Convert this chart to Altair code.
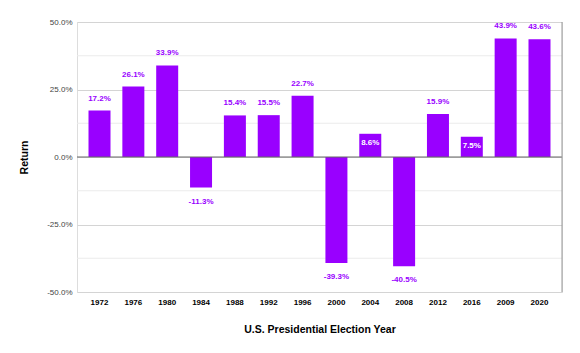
import altair as alt
import pandas as pd

years = ["1972", "1976", "1980", "1984", "1988", "1992", "1996", "2000",
         "2004", "2008", "2012", "2016", "2009", "2020"]
returns_pct = [17.2, 26.1, 33.9, -11.3, 15.4, 15.5, 22.7, -39.3,
               8.6, -40.5, 15.9, 7.5, 43.9, 43.6]
major_ticks = [-0.5, -0.25, 0.0, 0.25, 0.5]
minor_ticks = [-0.375, -0.125, 0.125, 0.375]

df = pd.DataFrame({"Year": years, "Return": [r / 100 for r in returns_pct]})
minor_df = pd.DataFrame({"v": minor_ticks})

PURPLE = "#9900ff"
FONT = "Liberation Sans"
FMT = "replace(format({v}, '.1%'), '\u2212', '-')"

x_enc = alt.X("Year:N", sort=years,
              scale=alt.Scale(paddingInner=0.35, paddingOuter=0.34),
              axis=alt.Axis(title="U.S. Presidential Election Year", labelAngle=0,
                            domain=False, ticks=False, labelPadding=6,
                            labelFontSize=8, labelFontWeight="bold", labelColor="#000",
                            labelFont=FONT, titleFont=FONT, titleFontSize=10.5,
                            titleFontWeight="bold", titleColor="#000",
                            titleY=37, titleBaseline="middle"))
y_scale = alt.Scale(domain=[-0.5, 0.5], nice=False)
y_enc = alt.Y("Return:Q", scale=y_scale,
              axis=alt.Axis(title="Return", values=major_ticks,
                            labelExpr=FMT.format(v="datum.value"),
                            domain=False, ticks=False, labelPadding=5,
                            labelFontSize=8, labelColor="#444", labelFont=FONT,
                            gridColor="#d4d4d4", titleFont=FONT, titleFontSize=10.5,
                            titleFontWeight="bold", titleColor="#000",
                            titleX=-53, titleY=135, titleBaseline="middle",
                            titleAlign="center", titleAngle=-90))

minor = alt.Chart(minor_df).mark_rule(color="#ebebeb", strokeWidth=1).encode(
    y=alt.Y("v:Q", scale=y_scale))

base = alt.Chart(df).transform_calculate(label=FMT.format(v="datum.Return"))
bars = alt.Chart(df).mark_bar(color=PURPLE).encode(x=x_enc, y=y_enc)

zero = alt.Chart(pd.DataFrame({"z": [0.0]})).mark_rule(color="#666", strokeWidth=1).encode(
    y=alt.Y("z:Q", scale=y_scale))

text_props = dict(font=FONT, fontSize=8, fontWeight="bold", baseline="middle", align="center")
enc = dict(x=alt.X("Year:N", sort=years), y=alt.Y("Return:Q", scale=y_scale),
           text=alt.Text("label:N"))
above = base.transform_filter("datum.Return >= 0.1").mark_text(
    color=PURPLE, dy=-12, **text_props).encode(**enc)
inside = base.transform_filter("datum.Return > 0 && datum.Return < 0.1").mark_text(
    color="#ffffff", dy=9.5, **text_props).encode(**enc)
below = base.transform_filter("datum.Return < 0").mark_text(
    color=PURPLE, dy=14, **text_props).encode(**enc)

border = alt.Chart(pd.DataFrame({"a": [0]})).mark_rule(color="#999", strokeWidth=1).encode(
    x=alt.value(485), y=alt.value(0), y2=alt.value(270))

chart = alt.layer(minor, bars, zero, above, inside, below, border).properties(
    width=485, height=270,
    autosize=alt.AutoSizeParams(type="none"),
    padding={"left": 77, "top": 22, "right": 18, "bottom": 61},
).configure_view(stroke=None).configure(background="white")

chart.save("out.html", embed_options={"renderer": "svg", "actions": False})
